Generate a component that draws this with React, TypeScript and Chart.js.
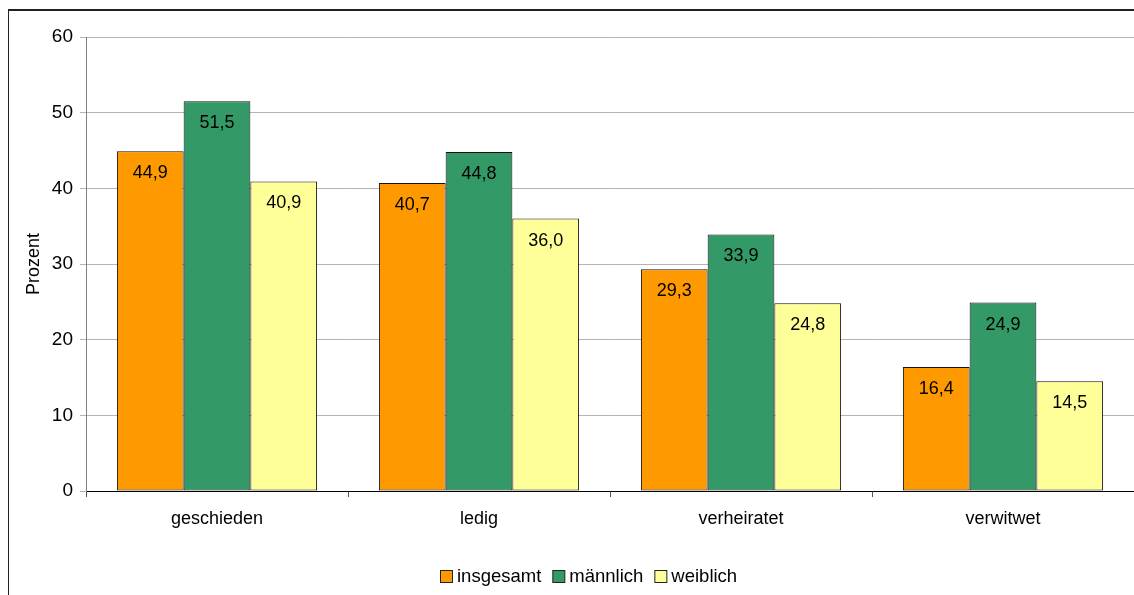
import React, { useEffect, useRef } from "react";
import { Chart, registerables } from "chart.js";

Chart.register(...registerables);

const categories = ["geschieden", "ledig", "verheiratet", "verwitwet"];
const seriesNames = ["insgesamt", "männlich", "weiblich"];
const insgesamt = [44.9, 40.7, 29.3, 16.4];
const maennlich = [51.5, 44.8, 33.9, 24.9];
const weiblich = [40.9, 36.0, 24.8, 14.5];
const seriesColors = ["#FF9900", "#339966", "#FFFF99"];
const yTicks = [0, 10, 20, 30, 40, 50, 60];
const yTitle = "Prozent";

const FONT = "Arial, 'Liberation Sans', sans-serif";

const valueLabelPlugin = {
  id: "valueLabels",
  afterDatasetsDraw(chart: any) {
    const ctx = chart.ctx;
    ctx.save();
    ctx.font = `18px ${FONT}`;
    ctx.fillStyle = "#000";
    ctx.textAlign = "center";
    ctx.textBaseline = "middle";
    chart.data.datasets.forEach((ds: any, di: number) => {
      const meta = chart.getDatasetMeta(di);
      meta.data.forEach((bar: any, i: number) => {
        const v = ds.data[i];
        ctx.fillText(v.toFixed(1).replace(".", ","), bar.x, bar.y + 22);
      });
    });
    ctx.restore();
  },
};

const legendPlugin = {
  id: "customLegend",
  afterDraw(chart: any) {
    const ctx = chart.ctx;
    ctx.save();
    ctx.font = `18.5px ${FONT}`;
    const box = 12;
    const gapBoxText = 5;
    const gapItems = 11;
    const widths = seriesNames.map((n) => ctx.measureText(n).width);
    const total =
      widths.reduce((a, b) => a + b, 0) +
      seriesNames.length * (box + gapBoxText) +
      (seriesNames.length - 1) * gapItems;
    let x = Math.round(581 - total / 2);
    const cy = 568;
    seriesNames.forEach((n, i) => {
      ctx.fillStyle = seriesColors[i];
      ctx.fillRect(x + 0.5, cy - box / 2 + 0.5, box, box);
      ctx.strokeStyle = "#222";
      ctx.lineWidth = 1;
      ctx.strokeRect(x + 0.5, cy - box / 2 + 0.5, box, box);
      x += box + gapBoxText;
      ctx.fillStyle = "#000";
      ctx.textAlign = "left";
      ctx.textBaseline = "middle";
      ctx.fillText(n, x, cy + 1);
      x += widths[i] + gapItems;
    });
    ctx.restore();
  },
};

export default function App() {
  const ref = useRef<HTMLCanvasElement>(null);

  useEffect(() => {
    if (!ref.current) return;
    const chart = new Chart(ref.current, {
      type: "bar",
      data: {
        labels: categories,
        datasets: [insgesamt, maennlich, weiblich].map((d, i) => ({
          label: seriesNames[i],
          data: d,
          backgroundColor: seriesColors[i],
          borderColor: "#111",
          borderWidth: 1,
          borderSkipped: false,
          categoryPercentage: 0.764,
          barPercentage: 1,
        })),
      },
      options: {
        animation: false,
        responsive: false,
        devicePixelRatio: 1,
        layout: { padding: { top: 29, left: 0, right: 0, bottom: 0 } },
        plugins: {
          legend: { display: false },
          tooltip: { enabled: false },
          title: { display: false },
        },
        scales: {
          x: {
            offset: true,
            grid: {
              offset: true,
              drawOnChartArea: false,
              drawTicks: true,
              tickLength: 6,
              color: "#555",
            },
            border: { display: true, color: "#000", width: 1 },
            ticks: {
              color: "#000",
              font: { family: FONT, size: 18 },
              padding: 11,
              maxRotation: 0,
            },
            afterFit(scale: any) {
              scale.height = 104;
            },
          },
          y: {
            min: 0,
            max: 60,
            afterBuildTicks(scale: any) {
              scale.ticks = yTicks.map((v) => ({ value: v }));
            },
            grid: {
              color: "#b4b4b4",
              tickLength: 6,
              drawTicks: true,
            },
            border: { display: true, color: "#808080", width: 1 },
            ticks: {
              color: "#000",
              font: { family: FONT, size: 19 },
              padding: 7,
            },
            title: {
              display: true,
              text: yTitle,
              color: "#000",
              font: { family: FONT, size: 18 },
              padding: { top: 15, bottom: 0 },
            },
            afterFit(scale: any) {
              scale.width = 78;
            },
          },
        },
      },
      plugins: [valueLabelPlugin, legendPlugin],
    });
    return () => chart.destroy();
  }, []);

  return (
    <div
      style={{
        position: "fixed",
        left: 8,
        top: 8,
        width: 1126,
        height: 587,
        overflow: "hidden",
      }}
    >
      <div
        style={{
          position: "absolute",
          left: -1,
          top: 1,
          width: 2000,
          height: 2000,
          borderTop: "2px solid #222",
          borderLeft: "2px solid #222",
        }}
      />
      <canvas
        ref={ref}
        width={1126}
        height={587}
        style={{ position: "absolute", left: 0, top: 0, width: 1126, height: 587 }}
      />
    </div>
  );
}
